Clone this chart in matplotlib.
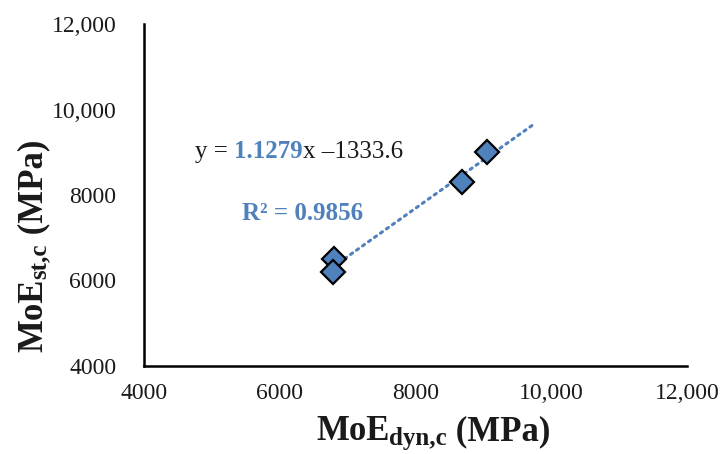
import matplotlib
matplotlib.use("Agg")
import matplotlib.pyplot as plt
import numpy as np
from matplotlib.ticker import FuncFormatter

# -------------------------------------------------------------------------
# Data
# -------------------------------------------------------------------------
moe_dyn = [6803, 6779, 8679, 9056]   # MPa
moe_st = [6496, 6206, 8311, 8999]    # MPa
slope = 1.1279
intercept = -1333.6
r_squared = 0.9856
trend_x_end = 9730

x_ticks = [4000, 6000, 8000, 10000, 12000]
y_ticks = [4000, 6000, 8000, 10000, 12000]

BLUE = "#4f81bd"
DARK = "#1a1a1a"
W, H = 724, 454

plt.rcParams["font.family"] = "Liberation Serif"

fig = plt.figure(figsize=(W / 100, H / 100), dpi=100)
ax = fig.add_axes([144 / W, 1 - 366 / H, (687 - 144) / W, (366 - 24) / H])

# trendline
tx = np.array([min(moe_dyn), trend_x_end])
ax.plot(tx, slope * tx + intercept, color=BLUE, lw=2.2,
        linestyle=(0, (0.8, 1.6)), dash_capstyle="round", zorder=2)

ax.plot(moe_dyn, moe_st, linestyle="none", marker="D", ms=12,
        markerfacecolor=BLUE, markeredgecolor="black", mew=1.6, zorder=3)

ax.set_xlim(4000, 12000)
ax.set_ylim(4000, 12000)
ax.set_xticks(x_ticks)
ax.set_yticks(y_ticks)


def fmt(v, pos):
    v = int(round(v))
    return f"{v:,}" if v >= 10000 else f"{v}"


ax.xaxis.set_major_formatter(FuncFormatter(fmt))
ax.yaxis.set_major_formatter(FuncFormatter(fmt))
ax.tick_params(axis="both", length=0, labelsize=17, colors=DARK)
ax.tick_params(axis="x", pad=12)
ax.tick_params(axis="y", pad=20)

for side in ["top", "right"]:
    ax.spines[side].set_visible(False)
for side in ["left", "bottom"]:
    ax.spines[side].set_linewidth(1.8)
    ax.spines[side].set_color("black")

fig.canvas.draw()
renderer = fig.canvas.get_renderer()


def chain_label(parts, x, y, rotated):
    """Draw text pieces one after another (x, y in pixels from top-left)."""
    for txt, size, shift in parts:
        if rotated:
            t = fig.text((x + shift) / W, 1 - y / H, txt, fontsize=size,
                         fontweight="bold", color=DARK, rotation=90,
                         rotation_mode="anchor", ha="left", va="baseline")
            t.draw(renderer)
            y = H - t.get_window_extent(renderer).y1
        else:
            t = fig.text(x / W, 1 - (y + shift) / H, txt, fontsize=size,
                         fontweight="bold", color=DARK, ha="left", va="baseline")
            t.draw(renderer)
            x = t.get_window_extent(renderer).x1


chain_label([("MoE", 25, 0), ("dyn,c", 18, 5), (" (MPa)", 25, 0)], 316, 440, False)
chain_label([("MoE", 25, 0), ("st,c", 18, 5), (" (MPa)", 25, 0)], 42, 352, True)

# equation text in pieces with two colours
pieces = [
    ("y = ", DARK, "normal"),
    (f"{slope}", BLUE, "bold"),
    (f"x –{abs(intercept)}", DARK, "normal"),
]
t = None
for txt, col, wt in pieces:
    if t is None:
        t = ax.text(4751, 9006, txt, color=col, fontweight=wt, fontsize=18, va="center")
    else:
        t = ax.annotate(txt, xy=(1, 0.5), xycoords=t, xytext=(0, 0),
                        textcoords="offset points", va="center", ha="left",
                        color=col, fontweight=wt, fontsize=18)
    t.draw(renderer)

ax.text(5443, 7556, f"R² = {r_squared}", color=BLUE, fontweight="bold",
        fontsize=18, va="center")

fig.savefig("out.png", dpi=100)
